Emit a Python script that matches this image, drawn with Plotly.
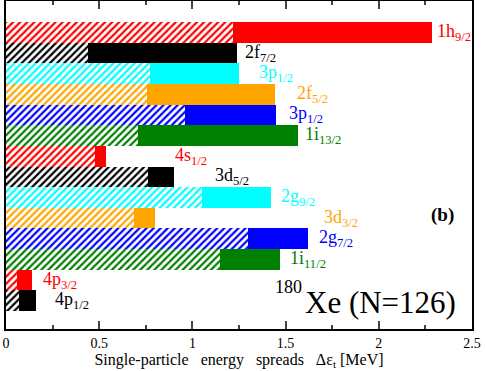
import plotly.graph_objects as go

# single-particle levels, top to bottom
levels = ["1h", "2f", "3p", "2f", "3p", "1i", "4s", "3d", "2g", "3d", "2g", "1i", "4p", "4p"]
spins = ["9/2", "7/2", "1/2", "5/2", "1/2", "13/2", "1/2", "5/2", "9/2", "3/2", "7/2", "11/2", "3/2", "1/2"]
# hatched part and full spread [MeV]
hatched = [1.219, 0.438, 0.770, 0.758, 0.960, 0.709, 0.479, 0.761, 1.053, 0.684, 1.296, 1.149, 0.059, 0.071]
total = [2.284, 1.239, 1.251, 1.442, 1.446, 1.569, 0.538, 0.899, 1.424, 0.801, 1.619, 1.471, 0.141, 0.161]

palette = ["#ff0000", "#000000", "#00ffff", "#ffa500", "#0000ff", "#008000"]
colors = [palette[i % 6] for i in range(len(levels))]
rows = list(range(1, len(levels) + 1))
solid = [t - h for t, h in zip(total, hatched)]

# where the level labels sit (layout only)
label_x = [2.302, 1.272, 1.348, 1.551, 1.508, 1.594, 0.897, 1.111, 1.465, 1.696, 1.669, 1.514, 0.189, 0.254]

serif = "Liberation Serif"

fig = go.Figure()
fig.add_trace(go.Bar(
    x=hatched, y=rows, orientation="h", width=1,
    marker=dict(color=colors, line=dict(width=0),
                pattern=dict(shape="/", fgcolor="white", bgcolor=colors,
                             size=5, solidity=0.45, fillmode="replace")),
    showlegend=False, hoverinfo="skip",
))
fig.add_trace(go.Bar(
    x=solid, y=rows, orientation="h", width=1,
    marker=dict(color=colors, line=dict(width=0)),
    showlegend=False, hoverinfo="skip",
))

for r, lv, sp, lx, c in zip(rows, levels, spins, label_x, colors):
    fig.add_annotation(x=lx, y=r, xref="x", yref="y",
                       text=f"{lv}<sub>{sp}</sub>", showarrow=False,
                       xanchor="left", yanchor="middle",
                       font=dict(family=serif, size=18, color=c))

fig.add_annotation(x=2.27, y=9.85, xref="x", yref="y", text="<b>(b)</b>",
                   showarrow=False, xanchor="left", yanchor="middle",
                   font=dict(family=serif, size=19, color="black"))
fig.add_annotation(x=1.43, y=13.35, xref="x", yref="y", text="180",
                   showarrow=False, xanchor="left", yanchor="middle",
                   font=dict(family=serif, size=18, color="black"))
fig.add_annotation(x=1.595, y=14.1, xref="x", yref="y", text="Xe (N=126)",
                   showarrow=False, xanchor="left", yanchor="middle",
                   font=dict(family=serif, size=31, color="black"))

fig.update_layout(
    barmode="stack", bargap=0,
    width=485, height=371,
    margin=dict(l=6, r=13, t=1, b=42),
    plot_bgcolor="white", paper_bgcolor="white",
    font=dict(family=serif, size=14, color="black"),
)
fig.update_xaxes(
    range=[0, 2.5], dtick=0.5, ticks="inside", ticklen=8, tickwidth=2,
    minor=dict(dtick=0.25, ticks="inside", ticklen=4, tickwidth=2),
    showline=True, linewidth=2, linecolor="black", mirror="ticks",
    showgrid=False, zeroline=False, tickfont=dict(size=14), automargin=False,
    title=dict(text="Single-particle&nbsp;&nbsp; energy&nbsp;&nbsp; spreads&nbsp;&nbsp; Δε<sub>t</sub> [MeV]",
               font=dict(size=16), standoff=0),
)
fig.update_yaxes(
    range=[15.37, -0.52], showticklabels=False, ticks="",
    showline=True, linewidth=2, linecolor="black", mirror=True,
    showgrid=False, zeroline=False, automargin=False,
)

# page has a default 8px body margin, drop it so the figure fills the window
fig.write_html("out.html", config={"displayModeBar": False},
               post_script="document.body.style.margin='0px';")
